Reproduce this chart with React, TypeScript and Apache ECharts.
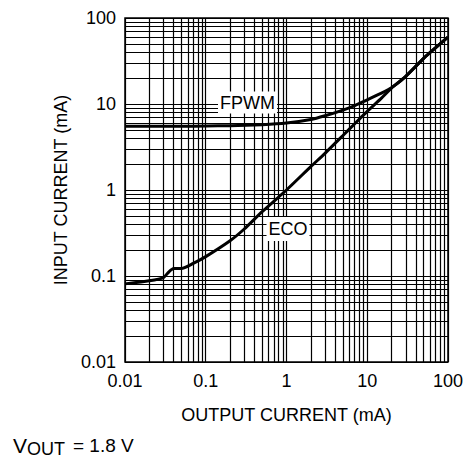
import React, { useEffect, useRef } from "react";
import * as echarts from "echarts";

const xTickLabels = ["0.01", "0.1", "1", "10", "100"];
const yTickLabels = ["0.01", "0.1", "1", "10", "100"];
const decades = [0.01, 0.1, 1, 10];
const gridMultipliers = [1, 2, 3, 4, 5, 6, 7, 8, 9];

const fpwmX = [0.01, 0.02, 0.05, 0.1, 0.2, 0.5, 1, 2, 3, 5, 7, 10, 15, 20, 30, 50, 70, 100];
const fpwmY = [5.5, 5.5, 5.5, 5.55, 5.6, 5.75, 6.0, 6.6, 7.3, 8.5, 9.6, 11.2, 13.4, 15.5, 21, 34, 45, 60];

const ecoX = [0.01, 0.02, 0.03, 0.035, 0.04, 0.05, 0.07, 0.1, 0.2, 0.3, 0.5, 1, 2, 3, 5, 7, 10, 15, 20, 30, 50, 70, 100];
const ecoY = [0.081, 0.088, 0.096, 0.112, 0.122, 0.122, 0.14, 0.168, 0.257, 0.352, 0.56, 1.0, 1.87, 2.67, 4.3, 5.9, 8.2, 11.7, 15.3, 21, 34, 45, 60];

const FONT = "Liberation Sans, Arial, sans-serif";

export default function App() {
  const ref = useRef<HTMLDivElement>(null);
  useEffect(() => {
    document.body.style.margin = "0";
    const chart = echarts.init(ref.current!, null, { renderer: "svg" });
    const gridVals: number[] = [];
    decades.forEach((d) => gridMultipliers.forEach((m) => gridVals.push(+(d * m).toPrecision(3))));
    gridVals.push(100);
    const markData: any[] = [];
    gridVals.forEach((v) => {
      markData.push({ xAxis: v });
      markData.push({ yAxis: v });
    });
    const fmt = (labels: string[]) => (v: number) => {
      const i = Math.round(Math.log10(v)) + 2;
      return labels[i] ?? "";
    };
    chart.setOption({
      animation: false,
      grid: { left: 125, right: 18, top: 18, bottom: 99, show: true, borderColor: "#000", borderWidth: 1.5, backgroundColor: "#fff" },
      xAxis: {
        type: "log",
        logBase: 10,
        min: 0.01,
        max: 100,
        name: "OUTPUT CURRENT (mA)",
        nameLocation: "middle",
        nameGap: 44,
        nameTextStyle: { color: "#000", fontSize: 18, fontFamily: FONT },
        axisLine: { show: false },
        axisTick: { show: false },
        splitLine: { show: false },
        axisLabel: { color: "#000", fontSize: 18, fontFamily: FONT, margin: 10, showMinLabel: true, showMaxLabel: true, formatter: fmt(xTickLabels) },
      },
      yAxis: {
        type: "log",
        logBase: 10,
        min: 0.01,
        max: 100,
        name: "INPUT CURRENT (mA)",
        nameLocation: "middle",
        nameRotate: 90,
        nameGap: 48,
        nameTextStyle: { color: "#000", fontSize: 18, fontFamily: FONT },
        axisLine: { show: false },
        axisTick: { show: false },
        splitLine: { show: false },
        axisLabel: { color: "#000", fontSize: 18, fontFamily: FONT, margin: 9, showMinLabel: true, showMaxLabel: true, formatter: fmt(yTickLabels) },
      },
      series: [
        {
          type: "line",
          name: "grid",
          data: [],
          silent: true,
          markLine: {
            silent: true,
            z: 1,
            symbol: ["none", "none"],
            label: { show: false },
            lineStyle: { color: "#000", width: 1.2, type: "solid" },
            emphasis: { disabled: true },
            data: markData,
          },
        },
        {
          type: "line",
          name: "FPWM",
          z: 5,
          data: fpwmX.map((x, i) => [x, fpwmY[i]]),
          showSymbol: false,
          smooth: 0.2,
          lineStyle: { color: "#000", width: 3 },
        },
        {
          type: "line",
          name: "ECO",
          z: 5,
          data: ecoX.map((x, i) => [x, ecoY[i]]),
          showSymbol: false,
          smooth: 0.2,
          lineStyle: { color: "#000", width: 3 },
        },
      ],
      graphic: [
        {
          type: "text",
          z: 100,
          x: 247.5,
          y: 102.5,
          style: { text: "FPWM", fill: "#000", font: `18px ${FONT}`, align: "center", verticalAlign: "middle", backgroundColor: "#fff", padding: [2, 2, 2, 2] },
        },
        {
          type: "text",
          z: 100,
          x: 288,
          y: 229,
          style: { text: "ECO", fill: "#000", font: `18px ${FONT}`, align: "center", verticalAlign: "middle", backgroundColor: "#fff", padding: [2, 2, 4, 2] },
        },
        {
          type: "text",
          x: 13,
          y: 445,
          style: { text: "V", fill: "#000", font: `21px ${FONT}`, align: "left", verticalAlign: "middle" },
        },
        {
          type: "text",
          x: 27,
          y: 448.5,
          style: { text: "OUT", fill: "#000", font: `18px ${FONT}`, align: "left", verticalAlign: "middle" },
        },
        {
          type: "text",
          x: 73,
          y: 445,
          style: { text: "= 1.8 V", fill: "#000", font: `19px ${FONT}`, align: "left", verticalAlign: "middle" },
        },
      ],
    });
    return () => chart.dispose();
  }, []);
  return <div ref={ref} style={{ width: 466, height: 461 }} />;
}
